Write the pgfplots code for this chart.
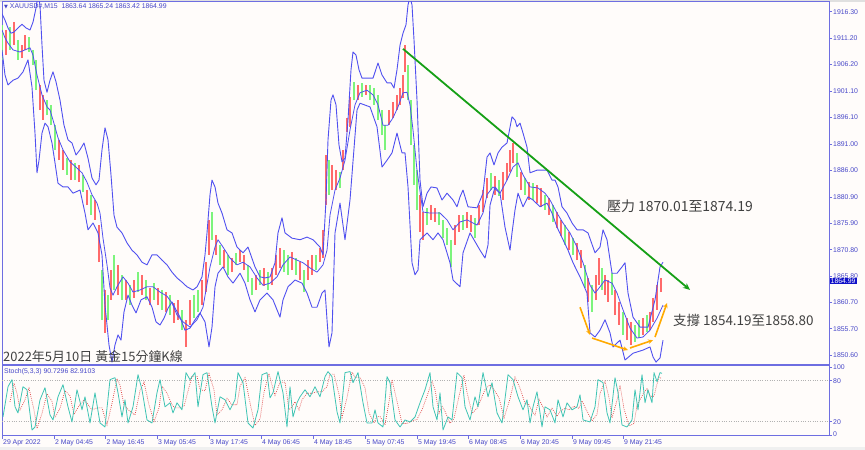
\documentclass[border=0pt]{standalone}
\usepackage{pgfplots}
\usepackage{pgfplotstable}
\pgfplotsset{compat=1.18}
\usepackage{fontspec}
\setmainfont{Liberation Sans}
\newfontfamily\cjk{Noto Sans CJK TC}
\newfontfamily\dvs{DejaVu Sans}
\usetikzlibrary{arrows.meta}

\definecolor{bgc}{HTML}{FFFCFA}
\definecolor{axiscol}{HTML}{6E6EE1}
\definecolor{lblblue}{HTML}{4646C8}
\definecolor{bandcol}{HTML}{5050F0}
\definecolor{candR}{HTML}{FF6A6A}
\definecolor{candG}{HTML}{7CF47C}
\definecolor{trend}{HTML}{16A016}
\definecolor{supp}{HTML}{FFAA00}
\definecolor{txtgray}{HTML}{404040}
\definecolor{stochm}{HTML}{40C4B4}
\definecolor{stochs}{HTML}{E04848}
\definecolor{boxblue}{HTML}{1010C8}

\newcommand\tk{\fontsize{6.9}{8}\selectfont}

% candles: x low high
\pgfplotstableread{
x lo hi
6 1908.0 1912.8
14 1909.9 1914.3
22 1907.5 1909.9
25 1909.0 1911.8
40 1897.5 1902.3
43 1895.6 1900.4
59 1887.9 1891.8
63 1886.0 1889.9
71 1884.1 1887.9
79 1883.7 1887.0
87 1879.3 1882.2
95 1876.5 1880.3
99 1868.4 1875.5
105 1854.9 1863.1
111 1861.2 1866.9
118 1862.1 1867.9
126 1861.2 1865.0
134 1861.6 1865.0
142 1862.1 1866.0
150 1860.2 1863.5
158 1860.2 1863.5
166 1858.9 1862.7
174 1856.8 1860.6
178 1857.4 1861.2
186 1852.2 1857.4
190 1856.4 1861.2
202 1860.2 1865.0
206 1862.7 1868.4
209 1869.8 1876.5
216 1869.8 1873.6
224 1867.3 1870.7
232 1866.5 1869.2
240 1868.4 1870.7
244 1866.9 1869.8
256 1863.1 1866.0
264 1863.9 1867.3
272 1864.0 1867.3
276 1866.0 1869.8
280 1867.3 1871.1
292 1866.9 1870.3
300 1865.0 1868.4
308 1865.0 1868.8
312 1866.0 1869.8
320 1868.4 1871.1
323 1869.2 1874.6
326 1879.3 1888.9
332 1882.2 1887.0
336 1882.2 1886.0
343 1886.0 1889.9
347 1893.3 1896.0
350 1894.3 1900.0
358 1899.4 1902.3
366 1900.4 1902.3
389 1894.6 1897.5
393 1896.0 1899.0
397 1897.5 1900.4
400 1898.5 1901.7
403 1899.8 1904.2
405 1904.8 1909.9
420 1874.2 1881.3
423 1872.7 1878.0
431 1876.5 1879.3
435 1876.1 1878.8
455 1871.7 1875.5
459 1874.2 1877.4
467 1874.9 1878.0
471 1874.2 1877.4
479 1875.5 1879.3
483 1878.0 1882.2
487 1880.7 1884.5
495 1881.3 1884.9
503 1880.3 1885.7
507 1884.1 1887.4
510 1885.7 1889.9
513 1887.4 1891.2
521 1882.2 1885.7
529 1880.3 1883.7
537 1879.7 1883.2
541 1879.0 1882.6
549 1877.4 1880.7
557 1874.9 1878.0
561 1873.4 1876.5
569 1870.7 1874.2
577 1868.8 1872.1
581 1867.3 1870.7
588 1860.8 1865.4
596 1861.2 1866.0
599 1864.0 1869.2
605 1862.1 1866.0
608 1860.8 1865.0
615 1858.3 1863.1
619 1856.4 1860.8
627 1853.5 1857.7
631 1852.6 1856.9
643 1854.5 1857.7
650 1855.4 1858.9
653 1857.0 1861.6
657 1859.3 1864.0
661 1862.7 1865.4
}\candRed

\pgfplotstableread{
x lo hi
2 1907.1 1913.8
10 1909.0 1913.4
18 1907.1 1910.9
29 1908.6 1911.5
33 1906.1 1909.0
36 1901.3 1907.1
47 1896.5 1899.4
51 1894.6 1898.5
55 1889.9 1894.6
67 1885.1 1888.3
75 1884.1 1887.4
83 1881.8 1885.1
91 1877.4 1881.3
102 1857.4 1866.9
108 1857.4 1862.1
114 1863.1 1869.8
122 1861.2 1866.0
130 1860.2 1864.0
138 1862.7 1866.5
146 1861.2 1865.0
154 1861.2 1864.4
162 1859.3 1863.1
170 1858.3 1862.1
182 1855.4 1859.3
194 1857.7 1862.1
198 1858.9 1863.1
212 1872.7 1878.0
220 1867.9 1871.7
228 1866.0 1869.8
236 1867.9 1870.2
248 1864.6 1867.9
252 1862.1 1865.4
260 1864.0 1866.9
268 1863.1 1866.5
284 1866.5 1870.7
288 1866.0 1869.8
296 1866.0 1869.2
304 1862.7 1866.9
316 1866.9 1869.8
329 1881.3 1887.9
340 1882.6 1885.7
354 1899.4 1902.9
362 1900.0 1902.7
370 1899.4 1902.3
374 1898.5 1901.7
378 1895.6 1900.4
382 1892.7 1897.5
385 1889.9 1894.6
408 1899.4 1906.1
411 1890.8 1899.4
414 1883.2 1890.8
417 1878.4 1886.0
427 1875.5 1878.8
439 1875.5 1878.0
443 1873.0 1876.5
447 1871.7 1874.9
451 1867.5 1872.7
463 1874.6 1877.4
475 1873.0 1876.9
491 1882.2 1885.5
499 1881.1 1884.1
517 1884.7 1889.3
525 1881.3 1884.5
533 1880.3 1883.5
545 1878.4 1881.3
553 1876.1 1879.3
565 1871.7 1875.5
573 1869.8 1873.0
585 1863.5 1867.9
592 1858.9 1864.0
602 1863.1 1867.3
612 1862.1 1866.3
623 1854.5 1858.9
635 1853.2 1856.4
639 1853.9 1857.4
647 1855.1 1858.3
}\candGreen

\pgfplotsset{candle/.style={draw=none, mark=none, forget plot,
  error bars/.cd, y dir=plus, y explicit, error mark=none,
  error bar style={draw=#1, line width=2.8bp}}}

\begin{document}
\begin{tikzpicture}[x=1bp,y=1bp]
\useasboundingbox[fill=bgc] (0,0) rectangle (865,450);
\fill[black!12] (0,448) rectangle (865,450);
\fill[black!6] (0,0) rectangle (865,3);

% ---------- price panel ----------
\begin{axis}[at={(2bp,85bp)}, anchor=south west, scale only axis,
  width=827bp, height=363bp,
  xmin=2, xmax=829, ymin=1848.75, ymax=1918.16,
  xtick=\empty,
  ytick={1916.30,1911.20,1906.20,1901.10,1896.10,1891.00,1886.00,1880.90,1875.90,1870.80,1865.80,1860.70,1855.70,1850.60},
  yticklabels={1916.30,1911.20,1906.20,1901.10,1896.10,1891.00,1886.00,1880.90,1875.90,1870.80,1865.80,1860.70,1855.70,1850.60},
  ytick pos=right, yticklabel pos=right,
  tick align=outside, major tick length=3bp,
  tick style={axiscol, line width=0.6bp},
  yticklabel style={font=\tk, text=lblblue, inner sep=1bp},
  axis line style={axiscol, line width=1bp},
  ]
\addplot[candle=candR] table[x=x, y=lo, y error plus expr=\thisrow{hi}-\thisrow{lo}] {\candRed};
\addplot[candle=candG] table[x=x, y=lo, y error plus expr=\thisrow{hi}-\thisrow{lo}] {\candGreen};

% upper band
\addplot[bandcol, line width=0.9bp, line join=round] coordinates {
(2,1915.9)(5,1914.7)(8,1913.2)(11,1912.2)(14,1912.4)(18,1913.2)(22,1913.9)(26,1913.2)(30,1912.8)(33,1914.3)(36,1917.0)(38,1919.5)(40,1917.6)(42,1909.9)(44,1903.2)(47,1900.9)(50,1903.2)(53,1904.8)(56,1902.9)(60,1899.4)(64,1894.6)(68,1891.8)(72,1891.2)(76,1888.9)(80,1889.9)(84,1891.2)(88,1888.3)(92,1884.5)(96,1883.2)(99,1884.1)(102,1889.9)(105,1894.1)(108,1891.8)(111,1885.1)(114,1877.4)(117,1875.1)(122,1874.0)(127,1872.1)(132,1870.7)(137,1869.8)(142,1868.4)(147,1867.9)(152,1869.8)(157,1869.8)(162,1868.8)(167,1867.9)(172,1866.5)(177,1865.4)(182,1864.6)(187,1863.7)(193,1863.1)(197,1863.7)(202,1865.6)(205,1869.8)(207,1874.0)(210,1881.3)(212,1884.1)(215,1882.8)(218,1879.7)(222,1877.8)(227,1874.6)(232,1874.0)(237,1871.3)(243,1870.2)(248,1871.3)(255,1867.5)(260,1865.6)(265,1865.4)(270,1865.6)(275,1868.3)(278,1874.0)(282,1876.9)(285,1874.0)(292,1873.0)(300,1872.7)(307,1873.2)(313,1872.7)(320,1871.3)(323,1869.8)(326,1880.3)(328,1891.8)(331,1899.4)(333,1900.4)(336,1898.5)(339,1890.8)(342,1887.6)(345,1888.3)(348,1895.6)(351,1905.2)(353,1908.6)(356,1908.0)(359,1905.2)(362,1903.6)(367,1903.6)(373,1903.6)(378,1906.5)(382,1904.2)(387,1902.7)(391,1902.7)(394,1901.7)(397,1905.2)(400,1909.9)(403,1912.2)(406,1913.8)(408,1917.6)(410,1919.1)(412,1917.6)(414,1910.9)(417,1899.4)(420,1884.1)(423,1879.0)(427,1881.6)(431,1882.8)(437,1882.6)(442,1880.3)(447,1881.6)(453,1880.3)(457,1879.0)(460,1880.9)(463,1882.2)(468,1879.0)(477,1878.8)(483,1881.6)(487,1888.5)(490,1889.3)(494,1887.0)(498,1889.3)(502,1890.4)(507,1891.2)(512,1896.2)(515,1895.6)(517,1894.3)(520,1895.0)(523,1893.1)(527,1890.4)(530,1885.5)(537,1886.0)(547,1886.0)(552,1884.1)(555,1884.1)(558,1882.8)(562,1879.0)(567,1877.8)(572,1875.9)(577,1874.6)(583,1874.6)(588,1874.0)(595,1870.2)(600,1871.3)(603,1874.6)(607,1872.7)(612,1866.3)(617,1866.3)(622,1867.5)(625,1868.3)(628,1862.5)(633,1857.9)(640,1856.0)(648,1856.0)(655,1861.2)(660,1867.5)(663,1868.4)
};
% middle band
\addplot[bandcol, line width=0.8bp, line join=round] coordinates {
(2,1912.8)(5,1911.3)(8,1910.3)(13,1909.0)(20,1908.6)(25,1909.0)(30,1909.4)(33,1908.0)(37,1904.2)(42,1900.4)(47,1898.1)(50,1897.5)(53,1895.6)(58,1892.2)(63,1889.9)(70,1887.6)(77,1886.4)(82,1885.5)(87,1883.7)(92,1881.3)(97,1879.7)(100,1877.8)(103,1873.0)(107,1867.9)(110,1863.5)(113,1862.1)(117,1863.7)(123,1865.6)(128,1864.4)(133,1862.7)(140,1863.1)(147,1863.7)(153,1863.7)(160,1862.7)(167,1861.9)(172,1860.6)(177,1858.3)(183,1857.0)(190,1856.0)(197,1857.4)(203,1859.8)(210,1867.5)(215,1871.3)(218,1872.7)(223,1871.3)(230,1869.2)(237,1867.9)(243,1868.4)(250,1867.5)(257,1865.4)(263,1864.0)(270,1864.4)(277,1865.6)(283,1867.9)(290,1869.4)(297,1868.8)(303,1868.3)(310,1867.3)(317,1866.5)(323,1867.9)(327,1870.7)(330,1877.4)(335,1882.2)(340,1884.5)(345,1887.9)(350,1893.7)(355,1898.5)(360,1900.8)(367,1901.3)(373,1900.4)(378,1898.5)(383,1894.6)(388,1894.6)(393,1896.0)(398,1898.1)(403,1900.8)(407,1900.9)(410,1898.5)(413,1893.7)(417,1886.0)(423,1878.0)(430,1877.8)(440,1877.8)(447,1876.5)(453,1874.6)(460,1876.1)(467,1876.5)(477,1875.5)(483,1877.8)(487,1881.3)(493,1882.8)(500,1881.6)(507,1884.1)(513,1886.6)(518,1887.4)(523,1885.1)(530,1882.8)(538,1882.6)(545,1881.6)(550,1880.3)(557,1877.8)(563,1875.9)(570,1874.0)(577,1871.3)(583,1868.3)(590,1864.0)(595,1862.5)(600,1863.7)(605,1865.0)(612,1864.4)(617,1862.5)(623,1859.3)(630,1855.8)(637,1853.9)(643,1854.1)(650,1855.4)(657,1857.7)(663,1860.2)
};
% lower band
\addplot[bandcol, line width=0.9bp, line join=round] coordinates {
(2,1909.0)(5,1904.2)(8,1902.3)(13,1903.2)(18,1903.6)(23,1904.8)(28,1907.1)(32,1901.9)(35,1893.1)(37,1885.5)(39,1887.9)(42,1893.1)(45,1895.0)(48,1894.3)(52,1891.2)(55,1887.4)(58,1883.5)(63,1882.8)(68,1882.8)(73,1881.6)(80,1882.2)(85,1877.8)(88,1874.6)(93,1875.9)(98,1874.0)(102,1869.8)(105,1860.2)(109,1852.6)(112,1849.3)(115,1852.6)(118,1854.5)(121,1853.5)(124,1858.9)(128,1862.1)(132,1860.2)(136,1858.7)(141,1861.2)(147,1861.8)(152,1859.8)(156,1857.0)(160,1856.4)(164,1857.7)(168,1859.6)(172,1860.8)(176,1859.3)(180,1857.9)(185,1855.4)(190,1855.8)(195,1857.4)(200,1858.7)(205,1857.0)(209,1852.2)(212,1856.0)(215,1863.7)(218,1866.3)(223,1867.5)(228,1865.6)(233,1864.4)(240,1866.3)(245,1864.4)(250,1861.2)(255,1858.9)(260,1861.2)(267,1862.5)(273,1861.2)(277,1859.3)(280,1857.9)(283,1861.2)(288,1863.7)(295,1865.0)(302,1864.4)(307,1862.5)(312,1859.8)(317,1859.8)(322,1862.5)(325,1863.1)(327,1857.4)(329,1852.2)(332,1854.9)(335,1874.0)(340,1879.7)(345,1872.7)(350,1880.3)(357,1897.5)(360,1898.8)(370,1898.1)(377,1894.3)(382,1886.6)(387,1887.9)(392,1889.3)(397,1893.1)(402,1889.3)(405,1889.3)(408,1882.8)(412,1868.3)(415,1866.0)(418,1866.9)(420,1872.7)(427,1874.0)(433,1872.7)(438,1874.0)(443,1872.7)(450,1868.3)(453,1865.0)(460,1863.7)(463,1870.2)(470,1874.0)(480,1870.7)(485,1869.2)(488,1871.7)(490,1879.3)(495,1882.8)(500,1881.6)(505,1875.1)(510,1870.7)(512,1874.0)(515,1878.4)(518,1881.6)(523,1879.0)(528,1880.9)(533,1880.3)(540,1879.0)(547,1879.7)(552,1877.8)(557,1875.1)(563,1872.7)(568,1870.7)(573,1868.3)(580,1865.6)(587,1862.5)(590,1854.9)(595,1854.1)(600,1855.4)(605,1857.4)(610,1854.9)(613,1852.2)(620,1853.5)(625,1849.7)(633,1851.0)(643,1851.6)(650,1852.2)(653,1850.3)(656,1849.3)(660,1850.1)(663,1853.5)
};

% resistance trend line and support arrows
\addplot[trend, line width=1.8bp, -{Stealth[length=7bp,width=6bp]}] coordinates {(403,1909.2)(690,1863.1)};
\addplot[supp, line width=1.6bp, -{Stealth[length=5bp,width=4.5bp]}] coordinates {(580,1859.8)(590,1854.5)};
\addplot[supp, line width=1.6bp, -{Stealth[length=5bp,width=4.5bp]}] coordinates {(592,1853.9)(628,1851.6)};
\addplot[supp, line width=1.6bp, -{Stealth[length=5bp,width=4.5bp]}] coordinates {(630,1852.0)(653,1853.5)};
\addplot[supp, line width=1.6bp, -{Stealth[length=5bp,width=4.5bp]}] coordinates {(655,1854.1)(667,1860.6)};
\end{axis}

% ---------- stochastic panel ----------
\begin{axis}[at={(2bp,14bp)}, anchor=south west, scale only axis,
  width=827bp, height=70bp,
  xmin=2, xmax=829, ymin=-1, ymax=101.5,
  xtick={2,54,105.5,157,209,261,313,365.5,417,468,520,572,623},
  xticklabels={29 Apr 2022,2 May 04:45,2 May 16:45,3 May 05:45,3 May 17:45,4 May 06:45,4 May 18:45,5 May 07:45,5 May 19:45,6 May 08:45,6 May 20:45,9 May 09:45,9 May 21:45},
  xtick pos=bottom,
  xticklabel style={font=\tk, text=lblblue, anchor=north west, inner sep=1bp},
  ytick={0,100},
  yticklabels={\raisebox{2.5bp}{0},\raisebox{-3.5bp}{100}},
  extra y ticks={20,80},
  extra y tick labels={20,80},
  extra y tick style={ymajorgrids=true, major grid style={black!30, dotted, line width=0.6bp}},
  ytick pos=right, yticklabel pos=right,
  tick align=outside, major tick length=3bp,
  tick style={axiscol, line width=0.6bp},
  yticklabel style={font=\tk, text=lblblue, inner sep=1bp},
  axis line style={axiscol, line width=1bp},
  ]
\addplot[stochs, line width=0.7bp, dash pattern=on 0.8bp off 1.2bp] coordinates {
(10,49.0)(14,76.4)(17,61.6)(20,37.3)(25,52.0)(29,69.0)(34,37.3)(37,10.0)(42,32.1)(47,60.9)(52,49.8)(55,26.2)(60,39.5)(65,65.3)(70,57.9)(74,30.7)(79,43.2)(84,52.0)(87,46.9)(92,37.3)(97,40.2)(102,40.2)(107,15.2)(112,46.9)(117,83.0)(120,73.4)(124,44.6)(127,39.5)(130,35.1)(135,29.9)(140,65.3)(144,77.8)(149,44.6)(154,20.3)(159,40.2)(162,71.9)(167,61.6)(172,44.7)(175,40.2)(179,40.2)(184,42.5)(188,64.6)(192,86.7)(197,86.7)(200,66.8)(205,65.3)(209,90.3)(214,66.8)(217,29.9)(222,37.3)(227,54.2)(232,44.7)(237,44.7)(240,71.9)(245,84.5)(250,47.6)(255,14.4)(260,24.0)(264,63.1)(269,90.3)(272,73.4)(275,58.6)(280,77.8)(285,77.8)(289,37.3)(292,41.7)(295,49.1)(299,37.3)(302,52.0)(307,61.6)(312,61.6)(317,63.8)(322,63.8)(327,71.2)(330,89.6)(334,89.6)(339,60.1)(342,26.2)(347,55.0)(352,92.6)(355,85.2)(360,84.5)(365,69.7)(369,32.9)(374,18.1)(377,27.7)(380,27.7)(385,15.2)(389,49.1)(392,81.5)(397,49.8)(402,17.4)(407,17.4)(412,21.1)(417,23.3)(422,37.3)(427,57.2)(432,79.3)(435,66.8)(439,32.1)(442,42.4)(445,35.1)(450,17.4)(454,24.7)(459,57.2)(464,88.1)(467,63.1)(472,32.1)(477,39.5)(480,49.1)(485,66.8)(490,74.1)(494,66.8)(499,55.0)(504,25.5)(510,53.5)(515,85.2)(520,69.0)(525,46.9)(529,44.7)(532,35.1)(535,29.9)(539,52.8)(544,38.0)(547,27.0)(552,39.5)(557,27.7)(560,35.1)(565,39.5)(569,37.3)(574,42.5)(579,39.5)(582,50.6)(585,41.0)(592,21.1)(597,30.7)(600,61.6)(605,79.3)(609,55.0)(612,25.5)(617,51.3)(620,73.4)(624,38.7)(629,13.7)(634,17.4)(637,44.6)(640,52.0)(644,63.1)(647,68.2)(650,57.2)(654,57.2)(656,69.7)(659,85.2)(662,82.9)
};
\addplot[stochm, line width=0.8bp, line join=round] coordinates {
(3,26.9)(8,71.2)(12,81.5)(15,41.7)(18,32.8)(23,71.2)(27,66.7)(32,7.8)(35,12.2)(40,52.0)(45,69.7)(50,29.9)(53,22.5)(58,56.4)(63,74.1)(68,41.7)(72,19.6)(77,66.7)(82,37.3)(85,56.4)(90,18.1)(95,62.3)(100,18.1)(105,12.2)(110,81.5)(115,84.4)(118,62.3)(122,26.9)(125,52.0)(128,18.1)(133,41.7)(138,88.8)(142,66.7)(147,22.5)(152,18.1)(157,62.3)(160,81.5)(165,41.7)(170,47.6)(173,32.8)(177,47.6)(182,37.3)(186,91.8)(190,81.5)(195,91.8)(198,41.7)(203,88.8)(207,91.8)(212,41.7)(215,18.1)(220,56.4)(225,52.0)(230,37.3)(235,52.0)(238,91.8)(243,77.1)(248,18.1)(253,10.7)(258,37.3)(262,88.8)(267,91.8)(270,54.9)(273,62.3)(278,93.3)(283,62.3)(287,12.2)(290,71.2)(293,26.9)(297,47.6)(300,56.4)(305,66.7)(310,56.4)(315,71.2)(320,56.4)(325,85.9)(328,93.3)(332,85.9)(337,34.3)(340,18.1)(345,91.8)(350,93.3)(353,77.1)(358,91.8)(363,47.6)(367,18.1)(372,18.1)(375,37.3)(378,18.1)(383,12.2)(387,85.9)(390,77.1)(395,22.5)(400,12.2)(405,22.5)(410,19.6)(415,26.9)(420,47.6)(425,66.7)(430,91.8)(433,41.7)(437,22.5)(440,62.3)(443,7.8)(448,26.9)(452,22.5)(457,91.8)(462,84.4)(465,41.7)(470,22.5)(475,56.4)(478,41.7)(483,91.8)(488,56.4)(492,77.1)(497,32.8)(502,18.1)(508,88.8)(513,81.5)(518,56.4)(523,37.3)(527,52.0)(530,18.1)(533,41.7)(537,63.8)(542,12.2)(545,41.7)(550,37.3)(555,18.1)(558,52.0)(563,26.9)(567,47.6)(572,37.3)(577,41.7)(580,59.4)(583,22.5)(590,19.6)(595,41.7)(598,81.5)(603,77.1)(607,32.8)(610,18.1)(615,84.4)(618,62.3)(622,15.1)(627,12.2)(632,22.5)(635,66.7)(638,37.3)(642,88.8)(645,47.6)(648,66.7)(652,47.6)(654,91.8)(657,78.5)(660,91.8)(662,90.7)
};
\end{axis}

% ---------- texts ----------
\node[anchor=west, inner sep=0, text=lblblue, font=\tk] at (4,443)
  {{\dvs\fontsize{5}{6}\selectfont ▼}\ XAUUSD\#,M15\ \ 1863.64 1865.24 1863.42 1864.99};
\node[anchor=west, inner sep=0, text=lblblue, font=\tk] at (4,78)
  {Stoch(5,3,3) 90.7296 82.9103};
\node[anchor=west, fill=boxblue, text=white, font=\tk, inner xsep=1bp, inner ysep=0.5bp] at (829.5,169) {1864.99};
\node[anchor=west, inner sep=0, text=txtgray, font={\cjk\fontsize{14}{16}\selectfont}] at (607,244) {壓力 1870.01至1874.19};
\node[anchor=west, inner sep=0, text=txtgray, font={\cjk\fontsize{13.5}{16}\selectfont}] at (673,130) {支撐 1854.19至1858.80};
\node[anchor=west, inner sep=0, text=txtgray, font={\cjk\fontsize{13}{15}\selectfont}] at (3,93) {2022年5月10日 黃金15分鐘K線};
\end{tikzpicture}
\end{document}
